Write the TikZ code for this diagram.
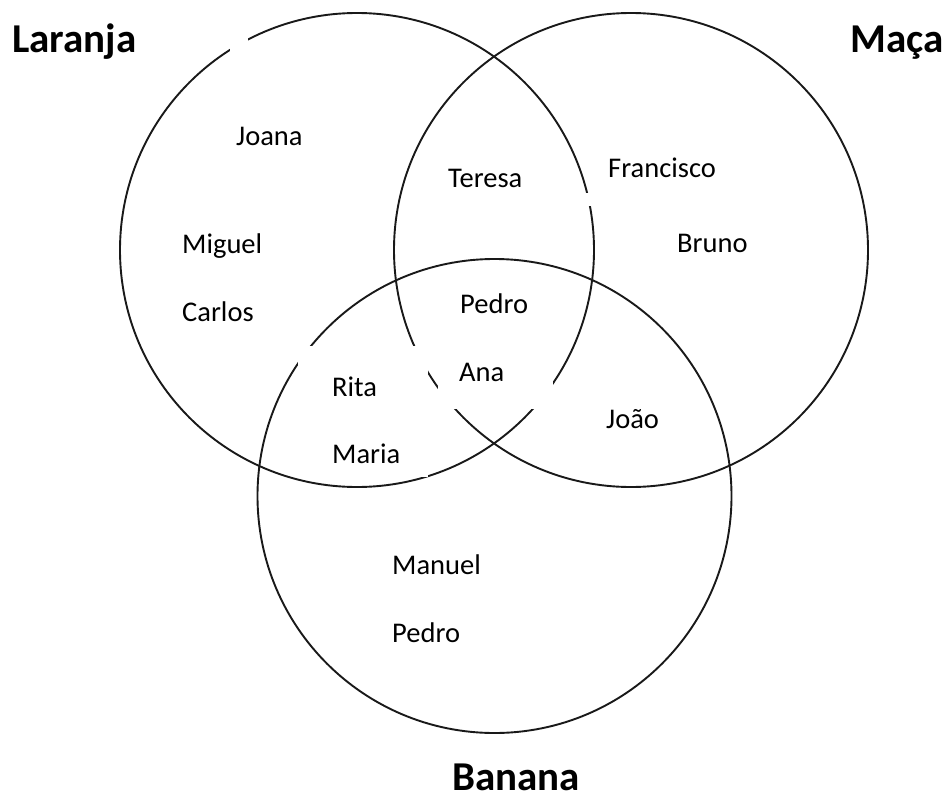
\documentclass[tikz,border=0pt]{standalone}
\usepackage{fontspec}
\setmainfont{Carlito}
\begin{document}
\begin{tikzpicture}[x=1pt,y=-1pt,
  ring/.style={draw=black!90,line width=1.9pt},
  mask/.style={fill=white,draw=none},
  personlbl/.style={anchor=base west,inner sep=0pt,font=\fontsize{28.5}{30}\selectfont},
  setlbl/.style={anchor=base west,inner sep=0pt,font=\fontsize{41}{44}\selectfont\bfseries}]
\useasboundingbox[fill=white] (0,0) rectangle (948,800);
\draw[ring] (357,250) circle (237);
\draw[ring] (631,250) circle (237);
\draw[ring] (494.5,496) circle (237);
% white text-box backgrounds that hide parts of the circles
\fill[mask] (230,20) rectangle (248,53);
\fill[mask] (298,346) rectangle (428,477);
\fill[mask] (438,362) rectangle (553,409);
\fill[mask] (584,193) rectangle (600,206);
% titles
\node[setlbl] (laranja) at (12,53) {Laranja};
\node[setlbl] (maca) at (850,53) {Maça};
\node[setlbl] (banana) at (452,790) {Banana};
% names
\node[personlbl] (joana) at (236,145) {Joana};
\node[personlbl] (miguel) at (182,253) {Miguel};
\node[personlbl] (carlos) at (182,321) {Carlos};
\node[personlbl] (teresa) at (448,187) {Teresa};
\node[personlbl] (francisco) at (608,177) {Francisco};
\node[personlbl] (bruno) at (677,252) {Bruno};
\node[personlbl] (pedro1) at (460,313) {Pedro};
\node[personlbl] (ana) at (459,381) {Ana};
\node[personlbl] (rita) at (332,396) {Rita};
\node[personlbl] (maria) at (332,463) {Maria};
\node[personlbl] (joao) at (606,428) {João};
\node[personlbl] (manuel) at (392,574) {Manuel};
\node[personlbl] (pedro2) at (392,642) {Pedro};
\end{tikzpicture}
\end{document}
